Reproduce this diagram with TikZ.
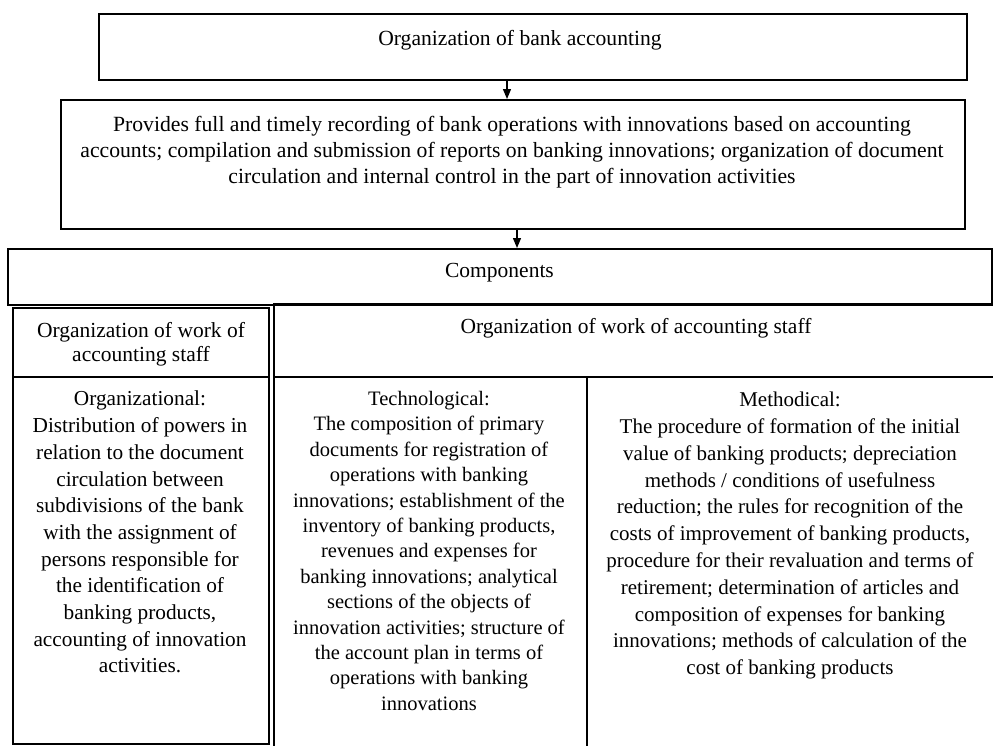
\documentclass[tikz,border=0pt]{standalone}
\usepackage{fontspec}
\setmainfont{Liberation Serif}
\usetikzlibrary{arrows.meta}
\begin{document}
\begin{tikzpicture}[x=1pt,y=-1pt,
  frame/.style={draw=black, line width=2.2pt, inner sep=0pt, anchor=north west},
  txt/.style={inner sep=0pt, anchor=north, align=center, text=black},
  arr/.style={line width=1.3pt, -{Triangle[length=10pt,width=8pt]}}]
\useasboundingbox (0,0) rectangle (993,745);
\begin{scope}
\clip (0,0) rectangle (993,745);
% frames
\node[frame, minimum width=868pt, minimum height=66pt]  (top)   at (98,13)  {};
\node[frame, minimum width=904pt, minimum height=129pt] (mid)   at (60,99)  {};
\node[frame, minimum width=984pt, minimum height=56pt]  (comp)  at (7,248)  {};
\node[frame, minimum width=256pt, minimum height=69pt]  (hdrL)  at (12,307) {};
\node[frame, minimum width=730pt, minimum height=73pt]  (hdrR)  at (273,303) {};
\node[frame, minimum width=256pt, minimum height=367pt] (colOrg)  at (12,376) {};
\node[frame, minimum width=313pt, minimum height=380pt] (colTech) at (273,376) {};
\node[frame, minimum width=420pt, minimum height=380pt] (colMeth) at (586,376) {};
% connectors
\coordinate (a1) at (507,0);
\coordinate (a2) at (517,0);
\draw[arr] (top.south -| a1) -- (mid.north -| a1);
\draw[arr] (mid.south -| a2) -- (comp.north -| a2);
% texts
\node[txt, font=\fontsize{21.6}{26}\selectfont] (tTop) at (520,30) {Organization of bank accounting};
\node[txt, font=\fontsize{21.7}{26}\selectfont] (tMid) at (512,116) {Provides full and timely recording of bank operations with innovations based on accounting\\accounts; compilation and submission of reports on banking innovations; organization of document\\circulation and internal control in the part of innovation activities};
\node[txt, font=\fontsize{21.5}{26}\selectfont] (tComp) at (499.5,263) {Components};
\node[txt, font=\fontsize{21.5}{24}\selectfont] (tHdrL) at (141,322) {Organization of work of\\accounting staff};
\node[txt, font=\fontsize{21.5}{24}\selectfont] (tHdrR) at (636,318) {Organization of work of accounting staff};
\node[txt, font=\fontsize{21.3}{26.7}\selectfont] (tOrg) at (140,391) {Organizational:\\Distribution of powers in\\relation to the document\\circulation between\\subdivisions of the bank\\with the assignment of\\persons responsible for\\the identification of\\banking products,\\accounting of innovation\\activities.};
\node[txt, font=\fontsize{20.5}{25.4}\selectfont] (tTech) at (429,391) {Technological:\\The composition of primary\\documents for registration of\\operations with banking\\innovations; establishment of the\\inventory of banking products,\\revenues and expenses for\\banking innovations; analytical\\sections of the objects of\\innovation activities; structure of\\the account plan in terms of\\operations with banking\\innovations};
\node[txt, font=\fontsize{21}{26.8}\selectfont] (tMeth) at (790,392) {Methodical:\\The procedure of formation of the initial\\value of banking products; depreciation\\methods / conditions of usefulness\\reduction; the rules for recognition of the\\costs of improvement of banking products,\\procedure for their revaluation and terms of\\retirement; determination of articles and\\composition of expenses for banking\\innovations; methods of calculation of the\\cost of banking products};
\end{scope}
\end{tikzpicture}
\end{document}
